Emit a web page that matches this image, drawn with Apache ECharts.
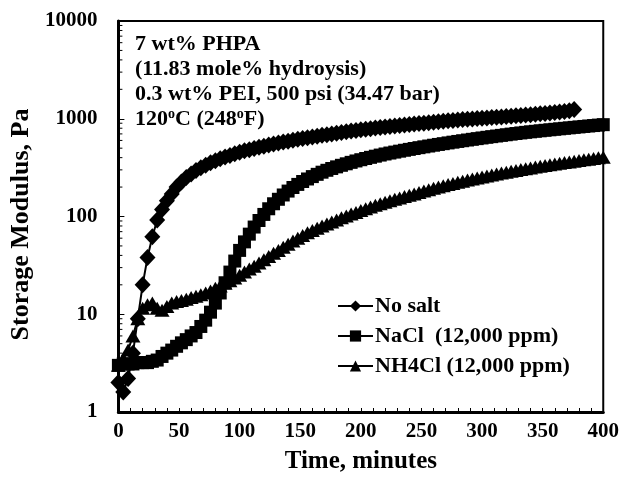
<!DOCTYPE html>
<html><head><meta charset="utf-8">
<script src="https://cdn.jsdelivr.net/npm/echarts@6/dist/echarts.min.js"></script>
<style>html,body{margin:0;padding:0;background:#fff}#c{width:622px;height:481px}</style>
</head><body><div id="c"></div>
<script>
// Time (minutes)
const timeNoSalt = [0,4,8,12,16,20,24,28,32,36,40,44,48,52,56,60,64,68,72,76,80,84,88,92,96,100,104,108,112,116,120,124,128,132,136,140,144,148,152,156,160,164,168,172,176,180,184,188,192,196,200,204,208,212,216,220,224,228,232,236,240,244,248,252,256,260,264,268,272,276,280,284,288,292,296,300,304,308,312,316,320,324,328,332,336,340,344,348,352,356,360,364,368,372,376];
const noSalt = [2.0,1.6,2.2,4.0,9,20,38,62,92,118,145,170,200,225,250,272,295,315,335,354,372,390,406,422,438,455,470,483,496,510,524,538,551,565,578,590,603,616,628,640,652,664,676,688,700,712,724,736,748,760,772,782,792,802,812,822,832,842,852,862,872,882,892,902,912,922,932,942,952,962,972,980,988,996,1004,1012,1020,1028,1036,1045,1054,1063,1072,1082,1092,1102,1112,1123,1134,1145,1157,1170,1185,1205,1240];
const timeSalt = [0,4,8,12,16,20,24,28,32,36,40,44,48,52,56,60,64,68,72,76,80,84,88,92,96,100,104,108,112,116,120,124,128,132,136,140,144,148,152,156,160,164,168,172,176,180,184,188,192,196,200,204,208,212,216,220,224,228,232,236,240,244,248,252,256,260,264,268,272,276,280,284,288,292,296,300,304,308,312,316,320,324,328,332,336,340,344,348,352,356,360,364,368,372,376,380,384,388,392,396,400];
const naCl = [3.0,3.1,3.1,3.1,3.2,3.2,3.2,3.3,3.4,3.7,4.0,4.3,4.7,5.1,5.5,6.0,6.5,7.5,8.7,10.5,13,16.5,21,27,35,45,55,66,78,91,105,120,135,150,166,182,198,213,228,242,256,270,284,297,310,322,334,346,358,370,381,392,403,414,425,436,446,456,466,476,486,496,506,516,526,536,546,556,566,576,586,596,606,616,626,636,646,656,666,676,686,696,706,716,726,735,744,753,762,771,780,789,798,807,816,825,834,843,852,861,870];
const nh4Cl = [3.0,3.5,4.3,6,9,11.5,12.5,13,11.5,11,12,13,13.5,13.8,14.2,14.8,15.3,15.8,16.5,17.3,18.5,19.5,20.8,22,23.5,25,27,29,31,33.5,36,39,42,45,48.5,52,56,60,64,68,72,76,80,84,88,92,97,101,106,110,115,120,125,130,135,140,145,150,155,160,165,170,176,182,188,194,200,206,212,218,224,230,236,242,248,254,260,266,272,278,284,290,296,302,308,314,320,326,332,338,344,350,356,362,368,374,380,386,392,398,404];
const seriesNames = ['No salt','NaCl  (12,000 ppm)','NH4Cl (12,000 ppm)'];
const yMinorTicks = [2,3,4,5,6,7,8,9,20,30,40,50,60,70,80,90,200,300,400,500,600,700,800,900,2000,3000,4000,5000,6000,7000,8000,9000];
const noteLines = ['7 wt% PHPA','(11.83 mole% hydroysis)','0.3 wt% PEI, 500 psi (34.47 bar)','120{sup|o}C (248{sup|o}F)'];

const F = '"Liberation Serif", "Times New Roman", serif';
const pair = (t, v) => t.map((x, i) => [x, v[i]]);
const chart = echarts.init(document.getElementById('c'), null, {renderer: 'canvas'});
chart.setOption({
  animation: false,
  backgroundColor: '#fff',
  grid: {left: 114, top: 21, width: 490, height: 391, show: true, borderColor: '#000', borderWidth: 2, backgroundColor: 'transparent'},
  xAxis: {
    type: 'value', min: 0, max: 400, interval: 50,
    name: 'Time, minutes', nameLocation: 'middle', nameGap: 37,
    nameTextStyle: {fontFamily: F, fontWeight: 'bold', fontSize: 25, color: '#000'},
    axisLine: {lineStyle: {color: '#000', width: 3}},
    axisTick: {inside: true, length: 4, lineStyle: {color: '#000', width: 1}},
    minorTick: {show: true, splitNumber: 5, length: 4, lineStyle: {color: '#000', width: 1}},
    axisLabel: {fontFamily: F, fontWeight: 'bold', fontSize: 21, color: '#000', margin: 9},
    splitLine: {show: false}
  },
  yAxis: {
    type: 'log', logBase: 10, min: 1, max: 10000,
    name: 'Storage Modulus, Pa', nameLocation: 'middle', nameGap: 72, nameRotate: 90,
    nameTextStyle: {fontFamily: F, fontWeight: 'bold', fontSize: 26, color: '#000', padding: [0, 16, 0, 0]},
    axisLine: {lineStyle: {color: '#000', width: 3}},
    axisTick: {inside: true, length: 6, lineStyle: {color: '#000', width: 1}},
    axisLabel: {fontFamily: F, fontWeight: 'bold', fontSize: 21, color: '#000', margin: 21, formatter: v => String(v)},
    splitLine: {show: false}
  },
  legend: {
    data: seriesNames, orient: 'vertical', left: 332, top: 290, itemGap: 8,
    itemWidth: 35, itemHeight: 14,
    textStyle: {fontFamily: F, fontWeight: 'bold', fontSize: 22, lineHeight: 22, color: '#000', padding: [0,0,0,-3]}
  },
  graphic: [{
    type: 'text', left: 135, top: 32,
    style: {
      text: noteLines.join('\n'), fontFamily: F, fontWeight: 'bold', fontSize: 22, lineHeight: 25, fill: '#000',
      rich: {sup: {fontFamily: F, fontWeight: 'bold', fontSize: 14, verticalAlign: 'top', lineHeight: 25, padding: [0,0,9,0]}}
    }
  }],
  series: [
    {name: seriesNames[0], type: 'line', data: pair(timeNoSalt, noSalt), symbol: 'diamond', symbolSize: [16, 17],
     itemStyle: {color: '#000'}, lineStyle: {color: '#000', width: 2}, z: 4},
    {name: seriesNames[1], type: 'line', data: pair(timeSalt, naCl), symbol: 'rect', symbolSize: 13,
     itemStyle: {color: '#000'}, lineStyle: {color: '#000', width: 2}, z: 3},
    {name: seriesNames[2], type: 'line', data: pair(timeSalt, nh4Cl), symbol: 'triangle', symbolSize: [15, 13],
     itemStyle: {color: '#000'}, lineStyle: {color: '#000', width: 2}, z: 3},
    {type: 'custom', silent: true, data: yMinorTicks.map(v => [0, v]), clip: false,
     renderItem: (params, api) => {
       const p = api.coord([0, api.value(1)]);
       return {type: 'line', shape: {x1: p[0], y1: p[1], x2: p[0] + 4, y2: p[1]}, style: {stroke: '#000', lineWidth: 1}};
     }, z: 5}
  ]
});
</script></body></html>
